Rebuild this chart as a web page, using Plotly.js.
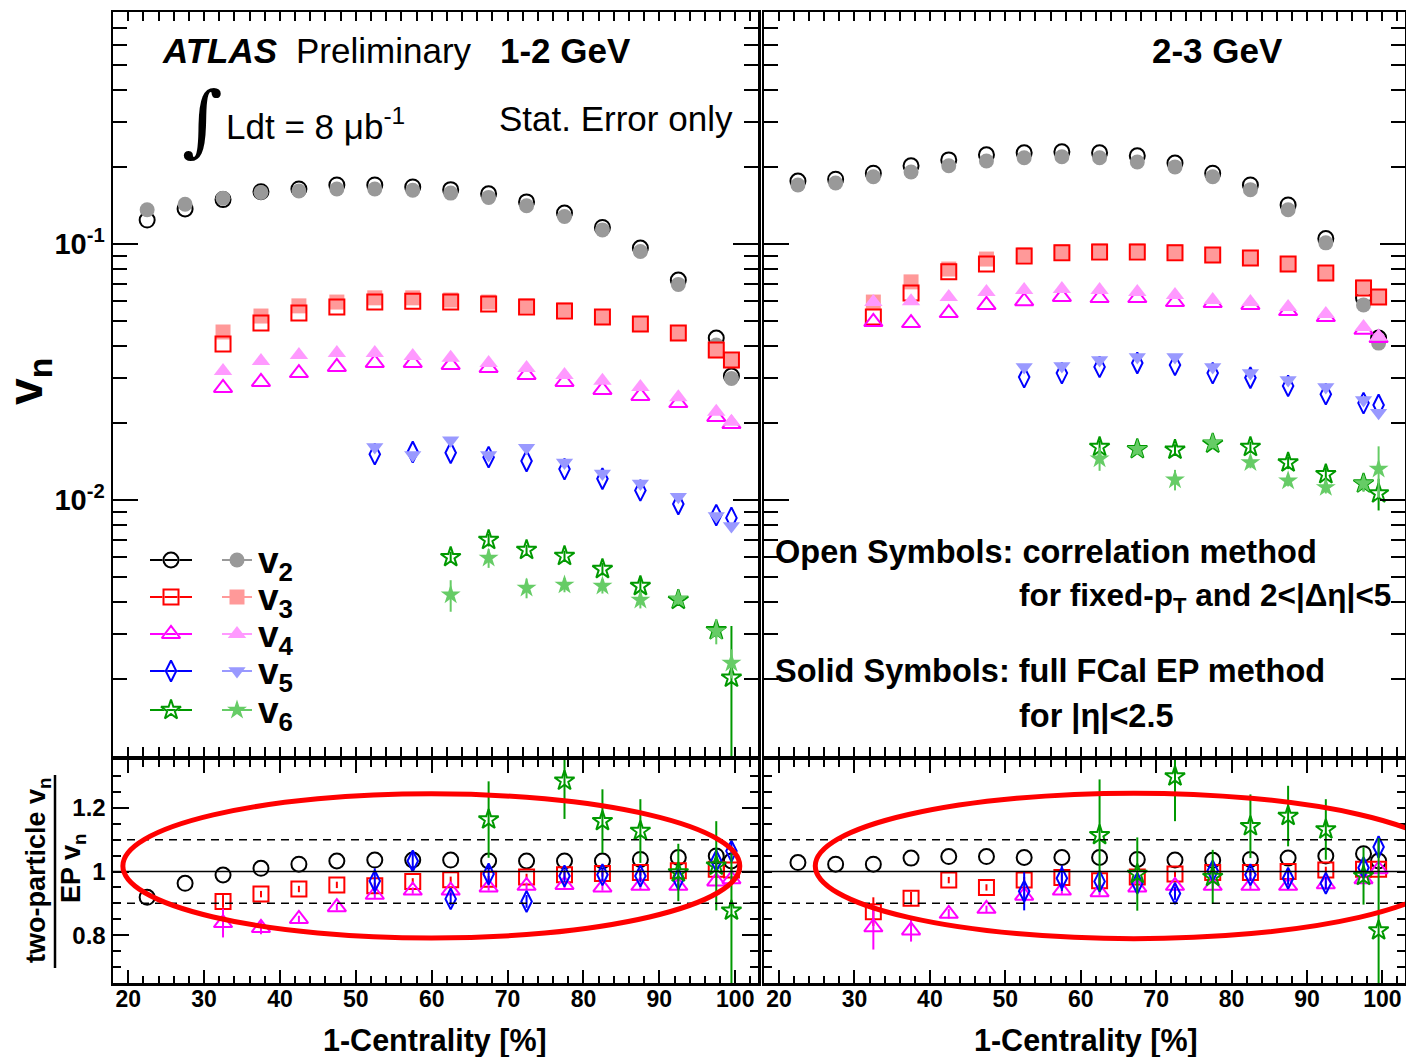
<!DOCTYPE html>
<html><head><meta charset="utf-8">
<script src="https://cdn.plot.ly/plotly-3.0.1.min.js"></script>
<style>html,body{margin:0;padding:0;background:#fff}</style>
</head><body><div id="chart" style="width:1406px;height:1057px"></div>
<script>
// ---------------- DATA ----------------
const centrality = [22.5,27.5,32.5,37.5,42.5,47.5,52.5,57.5,62.5,67.5,72.5,77.5,82.5,87.5,92.5,97.5,99.5];
const xTickLabels = ['20','30','40','50','60','70','80','90','100'];
const harmonicLabels = ['v<sub>2</sub>','v<sub>3</sub>','v<sub>4</sub>','v<sub>5</sub>','v<sub>6</sub>'];
const panelLabels = ['1-2 GeV','2-3 GeV'];

// 1-2 GeV, correlation method (open)
const v2_corr_12 = [0.124,0.137,0.149,0.160,0.164,0.170,0.170,0.167,0.163,0.157,0.146,0.132,0.116,0.0964,0.0723,0.0429,0.0305];
const v3_corr_12 = [0.0407,0.0491,0.0537,0.0567,0.0593,0.0598,0.0593,0.0583,0.0567,0.0547,0.0518,0.0487,0.0449,0.0385,0.0352];
const v4_corr_12 = [0.0274,0.0289,0.0313,0.0331,0.0343,0.0343,0.0337,0.0328,0.0308,0.0289,0.0269,0.0255,0.0239,0.0211,0.0198];
const v5_corr_12 = [0.0151,0.0154,0.0153,0.0147,0.0142,0.0132,0.0121,0.0109,0.00964,0.00873,0.00851];
const v6_corr_12 = [0.00598,0.00698,0.00638,0.00604,0.00537,0.00461,0.00407,0.00310,0.00202];
const v6_corr_12_err = [0.0003,0.0004,0.0003,0.0003,0.0003,0.0003,0.0002,0.0002,0.0012];
// 1-2 GeV, FCal EP method (solid)
const v2_ep_12 = [0.136,0.143,0.151,0.159,0.161,0.164,0.164,0.162,0.158,0.152,0.141,0.128,0.1135,0.0935,0.0695,0.0403,0.0298];
const v3_ep_12 = [0.0453,0.0523,0.0573,0.0593,0.0616,0.0616,0.0604,0.0593,0.0573,0.0552,0.0520,0.0487,0.0449,0.0383,0.0350];
const v4_ep_12 = [0.0319,0.0349,0.0368,0.0375,0.0375,0.0365,0.0359,0.0343,0.0328,0.0308,0.0292,0.0276,0.0252,0.0221,0.0202];
const v5_ep_12 = [0.0161,0.0150,0.0171,0.0150,0.0160,0.0140,0.0127,0.0116,0.0103,0.00866,0.00791];
const v6_ep_12 = [0.00426,0.00593,0.00453,0.00466,0.00461,0.00407,0.00410,0.00308,0.00231];
const v6_ep_12_err = [0.0006,0.0005,0.0004,0.0003,0.0003,0.0003,0.0002,0.00035,0.0003];

// 2-3 GeV, correlation method (open)
const v2_corr_23 = [0.176,0.179,0.189,0.202,0.213,0.223,0.227,0.229,0.227,0.221,0.207,0.189,0.170,0.142,0.105,0.0615,0.0429];
const v3_corr_23 = [0.0518,0.0644,0.0778,0.0835,0.0898,0.0923,0.0931,0.0931,0.0923,0.0906,0.0882,0.0835,0.0770,0.0673,0.0621];
const v4_corr_23 = [0.0496,0.0491,0.0537,0.0578,0.0598,0.0621,0.0615,0.0615,0.0593,0.0588,0.0578,0.0547,0.0518,0.0462,0.0429];
const v5_corr_23 = [0.0302,0.0313,0.0331,0.0343,0.0337,0.0313,0.0300,0.0279,0.0259,0.0239,0.0235];
const v6_corr_23 = [0.0161,0.0158,0.0157,0.0166,0.0161,0.0140,0.0126,0.0116,0.0106];
const v6_corr_23_err = [0.001,0.0008,0.0008,0.0008,0.0008,0.0008,0.0008,0.0008,0.0015];
// 2-3 GeV, FCal EP method (solid)
const v2_ep_23 = [0.170,0.173,0.183,0.191,0.202,0.211,0.217,0.219,0.217,0.209,0.200,0.183,0.163,0.136,0.101,0.0578,0.0410];
const v3_ep_23 = [0.0593,0.0711,0.0798,0.0873,0.0906,0.0931,0.0939,0.0939,0.0931,0.0906,0.0882,0.0835,0.0770,0.0679,0.0621];
const v4_ep_23 = [0.0593,0.0598,0.0621,0.0649,0.0661,0.0667,0.0661,0.0649,0.0632,0.0604,0.0593,0.0567,0.0533,0.0474,0.0434];
const v5_ep_23 = [0.0331,0.0334,0.0352,0.0362,0.0362,0.0331,0.0313,0.0294,0.0276,0.0246,0.0219];
const v6_ep_23 = [0.0145,0.0158,0.0120,0.0167,0.0140,0.0119,0.0112,0.0116,0.0132];
const v6_ep_23_err = [0.0015,0.0008,0.0011,0.0008,0.0007,0.0006,0.0006,0.0008,0.003];

// ratios two-particle / EP, 1-2 GeV
const r2_12 = [0.919,0.963,0.989,1.010,1.023,1.033,1.036,1.036,1.036,1.033,1.033,1.033,1.033,1.038,1.044,1.049,1.033];
const r3_12 = [0.906,0.929,0.945,0.958,0.955,0.969,0.974,0.976,0.983,0.990,0.994,0.997,1.002,1.007,1.005];
const r3_12_err = [0.02,0.01,0.01,0.01,0.01,0.01,0.01,0.01,0.01,0.01,0.01,0.01,0.01,0.01,0.01];
const r4_12 = [0.838,0.823,0.851,0.888,0.927,0.940,0.940,0.950,0.955,0.958,0.950,0.955,0.955,0.969,0.976];
const r4_12_err = [0.045,0.02,0.01,0.01,0.01,0.01,0.01,0.01,0.01,0.01,0.01,0.01,0.01,0.01,0.01];
const r5_12 = [0.970,1.033,0.914,0.992,0.906,0.986,0.990,0.986,0.976,1.033,1.064];
const r5_12_err = [0.04,0.03,0.02,0.03,0.02,0.02,0.02,0.02,0.02,0.04,0.03];
const r6_12 = [1.40,1.163,1.41,1.285,1.158,1.127,0.997,1.018,0.877];
const r6_12_errp = [0,0.12,0,0.12,0.10,0.10,0.09,0.14,0.18];
const r6_12_errm = [0,0.12,0,0.12,0.10,0.10,0.09,0.14,0.30];
// ratios two-particle / EP, 2-3 GeV
const r2_23 = [1.028,1.023,1.023,1.042,1.047,1.047,1.044,1.044,1.044,1.038,1.036,1.035,1.038,1.042,1.049,1.056,1.033];
const r3_23 = [0.874,0.916,0.973,0.950,0.973,0.981,0.971,0.983,0.992,0.997,0.997,1.000,1.005,1.007,1.007];
const r3_23_err = [0.045,0.02,0.01,0.01,0.01,0.01,0.01,0.01,0.01,0.01,0.01,0.01,0.01,0.01,0.01];
const r4_23 = [0.825,0.815,0.867,0.883,0.924,0.940,0.935,0.950,0.955,0.955,0.955,0.955,0.960,0.976,1.007];
const r4_23_err = [0.07,0.035,0.015,0.01,0.01,0.01,0.01,0.01,0.01,0.01,0.01,0.01,0.01,0.01,0.01];
const r5_23 = [0.938,0.979,0.969,0.963,0.931,1.002,0.990,0.979,0.963,1.012,1.077];
const r5_23_err = [0.06,0.04,0.02,0.02,0.02,0.02,0.02,0.02,0.02,0.03,0.035];
const r6_23 = [1.114,0.992,1.298,0.983,1.142,1.174,1.132,0.986,0.815];
const r6_23_errp = [0.175,0.115,0.14,0.085,0.10,0.095,0.095,0.09,0.29];
const r6_23_errm = [0.175,0.115,0.14,0.085,0.10,0.095,0.095,0.09,0.30];

// ---------------- STYLE ----------------
const W = 1406, H = 1057;
const FONT = 'Liberation Sans, Arial, sans-serif';
const firstIdx = [0,2,2,6,8];
const openSym = ['circle-open','square-open','triangle-up-open','diamond-tall-open','star-open'];
const fillSym = ['circle','square','triangle-up','triangle-down','star'];
const openCol = ['#000000','#ff0000','#ff00ff','#0000ff','#009900'];
const fillCol = ['#999999','#ff9999','#ff99ff','#9999ff','#66cc66'];
const mSize = [15,15,16,15,15];

const xs = k => centrality.slice(firstIdx[k]);

function mkTrace(xa, ya, k, y, open, errp, errm) {
  const col = open ? openCol[k] : fillCol[k];
  const t = {
    type:'scatter', mode:'markers', xaxis:xa, yaxis:ya, x: xs(k), y: y,
    showlegend:false, hoverinfo:'skip', cliponaxis:true,
    marker:{symbol: open ? openSym[k] : fillSym[k], size:mSize[k], color:col,
            line:{color:col, width: open ? 2 : 0}}
  };
  if (errp) t.error_y = {type:'data', symmetric: !errm, array: errp, arrayminus: errm || errp,
                          visible:true, color:col, thickness:2, width:0};
  return t;
}

const traces = [];
function topPanel(xa, ya, corr, ep, corrErr6, epErr6) {
  const orderOpenFirst = [true,false,true,true,true];
  for (let k = 0; k < 5; k++) {
    const o = mkTrace(xa, ya, k, corr[k], true, k===4 ? corrErr6 : null);
    const f = mkTrace(xa, ya, k, ep[k], false, k===4 ? epErr6 : null);
    if (orderOpenFirst[k]) { traces.push(o, f); } else { traces.push(f, o); }
  }
}
topPanel('x','y',[v2_corr_12,v3_corr_12,v4_corr_12,v5_corr_12,v6_corr_12],
                 [v2_ep_12,v3_ep_12,v4_ep_12,v5_ep_12,v6_ep_12], v6_corr_12_err, v6_ep_12_err);
topPanel('x2','y2',[v2_corr_23,v3_corr_23,v4_corr_23,v5_corr_23,v6_corr_23],
                   [v2_ep_23,v3_ep_23,v4_ep_23,v5_ep_23,v6_ep_23], v6_corr_23_err, v6_ep_23_err);

traces.push(mkTrace('x3','y3',0,r2_12,true));
traces.push(mkTrace('x3','y3',1,r3_12,true,r3_12_err));
traces.push(mkTrace('x3','y3',2,r4_12,true,r4_12_err));
traces.push(mkTrace('x3','y3',3,r5_12,true,r5_12_err));
traces.push(mkTrace('x3','y3',4,r6_12,true,r6_12_errp,r6_12_errm));
traces.push(mkTrace('x4','y4',0,r2_23,true));
traces.push(mkTrace('x4','y4',1,r3_23,true,r3_23_err));
traces.push(mkTrace('x4','y4',2,r4_23,true,r4_23_err));
traces.push(mkTrace('x4','y4',3,r5_23,true,r5_23_err));
traces.push(mkTrace('x4','y4',4,r6_23,true,r6_23_errp,r6_23_errm));

// legend keys on a pixel-space overlay axis (x5/y5)
const legRowY = [560,597,634,671,710];
const legOpenX = [150,192], legFillX = [222,252];
for (let k = 0; k < 5; k++) {
  const yy = legRowY[k];
  traces.push({type:'scatter',mode:'lines',xaxis:'x5',yaxis:'y5',x:legOpenX,y:[yy,yy],line:{color:openCol[k],width:2},showlegend:false,hoverinfo:'skip'});
  traces.push({type:'scatter',mode:'markers',xaxis:'x5',yaxis:'y5',x:[(legOpenX[0]+legOpenX[1])/2],y:[yy],showlegend:false,hoverinfo:'skip',
    marker:{symbol:openSym[k],size:mSize[k],color:'#fff',line:{color:openCol[k],width:2}}});
  traces.push({type:'scatter',mode:'markers',xaxis:'x5',yaxis:'y5',x:[(legOpenX[0]+legOpenX[1])/2],y:[yy],showlegend:false,hoverinfo:'skip',
    marker:{symbol:openSym[k],size:mSize[k],color:openCol[k],line:{color:openCol[k],width:2}}});
  traces.push({type:'scatter',mode:'lines',xaxis:'x5',yaxis:'y5',x:legFillX,y:[yy,yy],line:{color:fillCol[k],width:2},showlegend:false,hoverinfo:'skip'});
  traces.push({type:'scatter',mode:'markers',xaxis:'x5',yaxis:'y5',x:[(legFillX[0]+legFillX[1])/2],y:[yy],showlegend:false,hoverinfo:'skip',
    marker:{symbol:fillSym[k],size:mSize[k],color:fillCol[k],line:{width:0}}});
}

// ---------------- AXES ----------------
const dom = {
  xL:[113/W, 758/W], xR:[764/W, 1405/W],
  yT:[1-756/H, 1-12/H], yB:[1-983/H, 1-760/H]
};
const minorLog = [];
for (let e = -3; e <= -1; e++) for (let m = 2; m <= 9; m++) { const v = m*Math.pow(10,e); if (v < 0.8) minorLog.push(v); }

function xAxis(domain, anchor, labels) {
  const a = {domain, anchor, range:[18,103], tickmode:'array',
    tickvals:[20,30,40,50,60,70,80,90,100], showticklabels:labels,
    ticks:'inside', ticklen: labels ? 13 : 17, tickwidth:2, tickcolor:'#000',
    minor:{tickmode:'linear', tick0:0, dtick:2, ticks:'inside', ticklen: labels ? 7 : 9, tickwidth:2, tickcolor:'#000', showgrid:false},
    tickfont:{family:FONT, size:23, color:'#000', weight:'bold'},
    showline:true, linewidth:2.5, linecolor:'#000', mirror:'ticks',
    showgrid:false, zeroline:false, fixedrange:true};
  if (labels) { a.ticktext = xTickLabels; a.ticklabelstandoff = -6; }
  else { a.ticktext = xTickLabels.map(() => ''); }
  return a;
}
function yLog(domain, anchor, labels) {
  return {domain, anchor, type:'log', range:[-3,-0.094], tickmode:'array',
    tickvals:[0.01,0.1], ticktext: labels ? ['10<sup>-2</sup>','10<sup>-1</sup>'] : ['',''], showticklabels:labels,
    ticks:'inside', ticklen:25, tickwidth:2, tickcolor:'#000',
    minor:{tickmode:'array', tickvals:minorLog, ticks:'inside', ticklen:14, tickwidth:2, tickcolor:'#000', showgrid:false},
    tickfont:{family:FONT, size:29, color:'#000', weight:'bold'},
    showline:true, linewidth:2.5, linecolor:'#000', mirror:'ticks',
    showgrid:false, zeroline:false, fixedrange:true};
}
function yRatio(domain, anchor, labels) {
  return {domain, anchor, range:[0.65,1.35], tickmode:'array',
    tickvals:[0.8,1,1.2], ticktext: labels ? ['0.8','1','1.2'] : ['','',''], showticklabels:labels,
    ticks:'inside', ticklen:16, tickwidth:2, tickcolor:'#000',
    minor:{tickmode:'linear', tick0:0, dtick:0.05, ticks:'inside', ticklen:8, tickwidth:2, tickcolor:'#000', showgrid:false},
    tickfont:{family:FONT, size:24, color:'#000', weight:'bold'},
    showline:true, linewidth:2.5, linecolor:'#000', mirror:'ticks',
    showgrid:false, zeroline:false, fixedrange:true};
}

// ---------------- TEXT ----------------
function ann(text, x, y, size, opts) {
  return Object.assign({xref:'x5', yref:'y5', x, y, text, showarrow:false,
    xanchor:'left', yanchor:'middle', font:{family:FONT, size, color:'#000'}}, opts || {});
}
const annotations = [
  ann('<b><i>ATLAS</i></b>', 160, 50, 35),
  ann('Preliminary', 294, 50, 35),
  ann('<b>' + panelLabels[0] + '</b>', 498, 50, 35),
  ann('∫', 202, 120, 78, {xanchor:'center', font:{family:'DejaVu Serif, serif', size:78, color:'#000'}}),
  ann('Ldt = 8 μb<sup>-1</sup>', 224, 124, 35),
  ann('Stat. Error only', 497, 118, 35),
  ann('<b>' + panelLabels[1] + '</b>', 1150, 50, 35),
  ann('<b>Open Symbols: correlation method</b>', 773, 552, 32.5),
  ann('<b>for fixed-p<sub>T</sub> and 2&lt;|Δη|&lt;5</b>', 1017, 597, 31.5),
  ann('<b>Solid Symbols: full FCal EP method</b>', 773, 671, 32.5),
  ann('<b>for |η|&lt;2.5</b>', 1017, 716, 32.5),
  ann('<b>v<sub>n</sub></b>', 29, 382, 48, {xanchor:'center', textangle:-90}),
  ann('<b>1-Centrality [%]</b>', 435, 1040, 30.5, {xanchor:'center'}),
  ann('<b>1-Centrality [%]</b>', 1086, 1040, 30.5, {xanchor:'center'}),
  ann('<b>two-particle v<sub>n</sub></b>', 38, 870, 27, {xanchor:'center', textangle:-90}),
  ann('<b>EP v<sub>n</sub></b>', 73, 868, 27, {xanchor:'center', textangle:-90})
];
for (let k = 0; k < 5; k++) annotations.push(ann('<b>' + harmonicLabels[k] + '</b>', 256, legRowY[k] + 3, 37));

// ---------------- SHAPES ----------------
const shapes = [];
for (const [xr, yr] of [['x3','y3'],['x4','y4']]) {
  shapes.push({type:'line', xref:xr+' domain', yref:yr, x0:0, x1:1, y0:1, y1:1, line:{color:'#000', width:1.5}});
  shapes.push({type:'line', xref:xr+' domain', yref:yr, x0:0, x1:1, y0:1.1, y1:1.1, line:{color:'#000', width:1.5, dash:'8px,6px'}});
  shapes.push({type:'line', xref:xr+' domain', yref:yr, x0:0, x1:1, y0:0.9, y1:0.9, line:{color:'#000', width:1.5, dash:'8px,6px'}});
}
shapes.push({type:'circle', xref:'x3', yref:'y3', x0:19.3, x1:100.6, y0:0.791, y1:1.244, line:{color:'#ff0000', width:5}, layer:'above'});
shapes.push({type:'circle', xref:'x4', yref:'y4', x0:24.8, x1:109.3, y0:0.789, y1:1.246, line:{color:'#ff0000', width:5}, layer:'above'});
shapes.push({type:'line', xref:'x5', yref:'y5', x0:55, x1:55, y0:775, y1:968, line:{color:'#000', width:2.5}});

const layout = {
  width:W, height:H, autosize:false, margin:{l:0,r:0,t:0,b:0},
  paper_bgcolor:'#ffffff', plot_bgcolor:'rgba(0,0,0,0)', showlegend:false,
  xaxis: xAxis(dom.xL,'y',false),  yaxis: yLog(dom.yT,'x',true),
  xaxis2: xAxis(dom.xR,'y2',false), yaxis2: yLog(dom.yT,'x2',false),
  xaxis3: xAxis(dom.xL,'y3',true),  yaxis3: yRatio(dom.yB,'x3',true),
  xaxis4: xAxis(dom.xR,'y4',true),  yaxis4: yRatio(dom.yB,'x4',false),
  xaxis5: {domain:[0,1], anchor:'y5', range:[0,W], visible:false, fixedrange:true},
  yaxis5: {domain:[0,1], anchor:'x5', range:[H,0], visible:false, fixedrange:true},
  annotations, shapes
};
Plotly.newPlot('chart', traces, layout, {staticPlot:true, displayModeBar:false});
</script></body></html>
